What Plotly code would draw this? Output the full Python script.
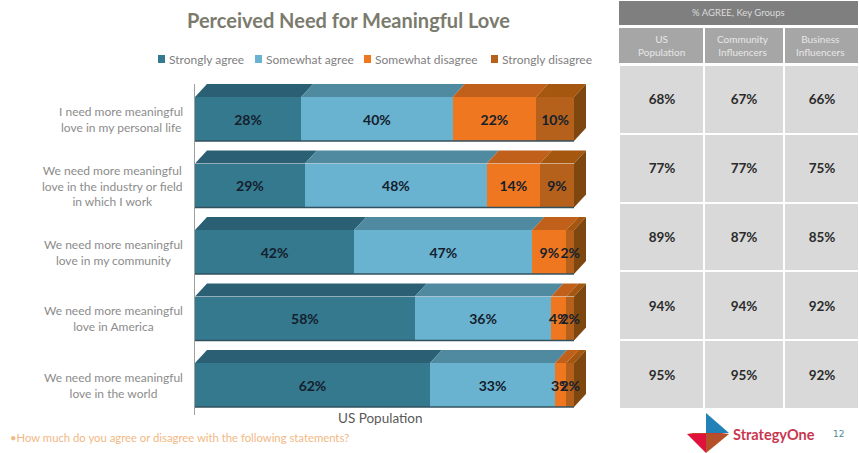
import plotly.graph_objects as go

W, H = 859, 453
title = "Perceived Need for Meaningful Love"
categories = [
    "I need more meaningful<br>love in my personal life",
    "We need more meaningful<br>love in the industry or field<br>in which I work",
    "We need more meaningful<br>love in my community",
    "We need more meaningful<br>love in America",
    "We need more meaningful<br>love in the world",
]
strongly_agree = [28, 29, 42, 58, 62]
somewhat_agree = [40, 48, 47, 36, 33]
somewhat_disagree = [22, 14, 9, 4, 3]
strongly_disagree = [10, 9, 2, 2, 2]
series_names = ["Strongly agree", "Somewhat agree", "Somewhat disagree", "Strongly disagree"]
groups = ["US<br>Population", "Community<br>Influencers", "Business<br>Influencers"]
us_population = [68, 77, 89, 94, 95]
community_influencers = [67, 77, 87, 94, 95]
business_influencers = [66, 75, 85, 92, 92]

series = [strongly_agree, somewhat_agree, somewhat_disagree, strongly_disagree]
front = ["#35798f", "#69b2d0", "#ee7720", "#b5611c"]
top = ["#2b6074", "#4f8aa1", "#c0601a", "#a5560f"]
side = "#7f4710"
FONT = "Lato"

fx = lambda p: p / W
fy = lambda p: 1 - p / H

PLOT_L, PLOT_R, PLOT_T, PLOT_B = 195, 600, 84, 415
UNIT_X = 3.79
UNIT_Y = 66.5
BAR = 44 / UNIT_Y
DX, DY = 12 / UNIT_X, 13 / UNIT_Y
ypos = list(range(len(categories)))

fig = go.Figure()
shapes = []


def data_poly(xs, ys, color):
    d = "M " + " L ".join(f"{a:.4f},{b:.4f}" for a, b in zip(xs, ys)) + " Z"
    return dict(type="path", xref="x", yref="y", path=d, fillcolor=color, line_width=0, layer="below")


# 3D faces computed from the data, kept beneath the bars and their labels
for r, y in enumerate(ypos):
    left = 0
    yt, yb = y - BAR / 2, y + BAR / 2
    for s, vals in enumerate(series):
        right = left + vals[r]
        shapes.append(data_poly([left, right, right + DX, left + DX],
                                [yt, yt, yt - DY, yt - DY], top[s]))
        left = right
    shapes.append(data_poly([left, left + DX, left + DX, left],
                            [yt, yt - DY, yb - DY, yb], side))
    # thin dark edge along the bottom of each bar
    shapes.append(dict(type="line", xref="x", yref="y", x0=0, x1=left, y0=yb, y1=yb,
                       line=dict(color="#33505e", width=1.5)))

for s, vals in enumerate(series):
    fig.add_trace(go.Bar(
        x=vals, y=ypos, orientation="h", name=series_names[s], width=BAR,
        marker=dict(color=front[s], line=dict(width=0)),
        text=[f"{v}%" for v in vals], textposition="inside",
        insidetextanchor="middle", constraintext="none", textangle=0,
        insidetextfont=dict(family=FONT, size=14, color="#14202c", weight="bold"),
        cliponaxis=False, showlegend=False))

# Key groups grid
rows = [list(t) for t in zip(us_population, community_influencers, business_influencers)]
fig.add_trace(go.Heatmap(
    z=rows, x=[619, 704, 784, 859], y=ypos, xaxis="x2", yaxis="y2",
    colorscale=[[0, "#d9d9d9"], [1, "#d9d9d9"]], showscale=False, xgap=2, ygap=2,
    text=[[f"{v}%" for v in r] for r in rows], texttemplate="%{text}",
    textfont=dict(family=FONT, size=13.5, color="#2b2b2b", weight="bold"),
    hoverinfo="skip"))


def label(text, x, y, size, color, xanchor="center", family=FONT, weight="normal", align="center"):
    return dict(text=text, x=fx(x), y=fy(y), xref="paper", yref="paper", showarrow=False,
                xanchor=xanchor, yanchor="middle", align=align,
                font=dict(family=family, size=size, color=color, weight=weight))


annotations = [
    label(title, 348, 20, 20, "#7b7b6d", weight="bold"),
    label("US Population", 380, 418, 13.5, "#595959"),
    label("•How much do you agree or disagree with the following statements?", 8, 437, 11.3, "#f2b885", xanchor="left"),
    label("% AGREE, Key Groups", 738, 12, 9.5, "#dcdcdc"),
    label("StrategyOne", 731, 434, 14.5, "#c8374f", xanchor="left", weight="bold"),
    label("12", 838, 434, 9, "#4f8a94", family="DejaVu Sans"),
]
for c, y in zip(categories, ypos):
    annotations.append(dict(text=c, x=0, y=y, xref="x", yref="y", xanchor="right", xshift=-10,
                            yanchor="middle", align="center", showarrow=False,
                            font=dict(family=FONT, size=12, color="#8c8c8c")))
for g, cx in zip(groups, [661, 743, 820]):
    annotations.append(label(g, cx, 46, 10, "#e6e6e6"))
for name, sx in zip(series_names, [158, 255, 364, 491]):
    annotations.append(label(name, sx + 9, 59, 12, "#7f8080", xanchor="left"))


def rect(x0, y0, x1, y1, color):
    return dict(type="rect", xref="paper", yref="paper", x0=fx(x0), x1=fx(x1), y0=fy(y0), y1=fy(y1),
                fillcolor=color, line_width=0, layer="below")


def poly(pts, color):
    d = "M " + " L ".join(f"{fx(a):.4f},{fy(b):.4f}" for a, b in pts) + " Z"
    return dict(type="path", xref="paper", yref="paper", path=d, fillcolor=color, line_width=0)


shapes += [
    rect(619, 1, 858, 25, "#7f7f7f"),
    rect(619, 28, 703, 63, "#a6a6a6"),
    rect(705, 28, 783, 63, "#a6a6a6"),
    rect(785, 28, 858, 63, "#a6a6a6"),
    poly([(706, 413), (729, 433), (706, 433)], "#2282b8"),
    poly([(687, 433), (729, 433), (706, 436)], "#c7402c"),
    poly([(687, 434), (706, 434), (706, 453)], "#e0123c"),
    poly([(706, 434), (729, 434), (706, 453)], "#b5512a"),
]
for col, sx in zip(front, [158, 255, 364, 491]):
    shapes.append(rect(sx, 55, sx + 7, 63, col))

fig.update_layout(
    width=W, height=H, margin=dict(l=0, r=0, t=0, b=0),
    paper_bgcolor="white", plot_bgcolor="white", barmode="stack",
    showlegend=False,
    xaxis=dict(domain=[fx(PLOT_L), fx(PLOT_R)], range=[0, (PLOT_R - PLOT_L) / UNIT_X],
               visible=False, fixedrange=True),
    yaxis=dict(domain=[fy(PLOT_B), fy(PLOT_T)],
               range=[4 + (PLOT_B - 385) / UNIT_Y, -(119 - PLOT_T) / UNIT_Y],
               showgrid=False, zeroline=False, showline=True, linecolor="#a0a0a0", linewidth=1,
               tickvals=[], fixedrange=True),
    xaxis2=dict(domain=[fx(618), fx(859)], range=[618, 859], visible=False, anchor="y2", fixedrange=True),
    yaxis2=dict(domain=[fy(409), fy(65)], range=[4.5, -0.5], visible=False, anchor="x2", fixedrange=True),
    annotations=annotations, shapes=shapes,
)
fig.write_html("out.html", config=dict(displayModeBar=False),
               post_script="document.body.style.margin='0';")
